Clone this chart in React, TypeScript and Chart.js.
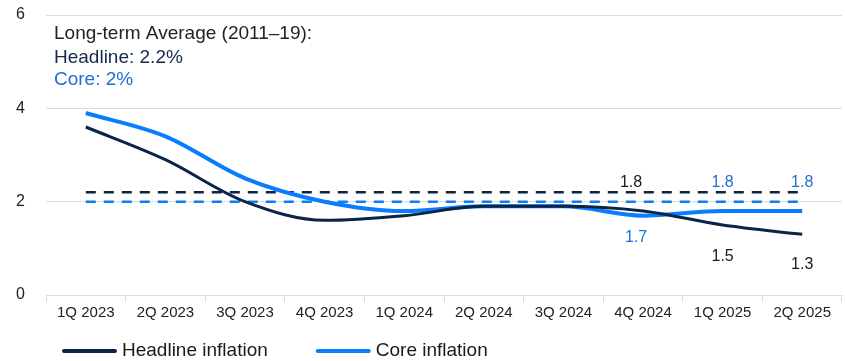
import React, { useEffect, useRef } from "react";
import { Chart, registerables } from "chart.js";

Chart.register(...registerables);

const categories = ["1Q 2023", "2Q 2023", "3Q 2023", "4Q 2023", "1Q 2024", "2Q 2024", "3Q 2024", "4Q 2024", "1Q 2025", "2Q 2025"];
const headline = [3.6, 2.9, 2.0, 1.6, 1.7, 1.9, 1.9, 1.8, 1.5, 1.3];
const core = [3.9, 3.4, 2.5, 2.0, 1.8, 1.9, 1.9, 1.7, 1.8, 1.8];
const headlineAvg = 2.2;
const coreAvg = 2.0;
const yTicks = [0, 2, 4, 6];
const noteLines = ["Long-term Average (2011\u201319):", "Headline: 2.2%", "Core: 2%"];
// which points get value labels: [datasetIndex, pointIndex]
const labelledPoints: [number, number][] = [[0, 7], [0, 8], [0, 9], [1, 7], [1, 8], [1, 9]];

const FONT = "'Liberation Sans', Arial, sans-serif";
const NAVY = "#0b2546";
const BLUE = "#0a7dff";
const NAVY_TEXT = "#13294b";
const BLUE_TEXT = "#1f6fd1";
const GRID = "#dcdcdc";

// label placement style: [dx, dy from point to baseline]
const labelOffsets: Record<string, [number, number]> = {
  "0-7": [-12, -24],
  "0-8": [0, 36],
  "0-9": [0, 35],
  "1-7": [-7, 26],
  "1-8": [0, -24],
  "1-9": [0, -24],
};

const overlayPlugin = {
  id: "overlay",
  afterDatasetsDraw(chart: any) {
    const { ctx, chartArea } = chart;
    ctx.save();
    ctx.font = `19px ${FONT}`;
    ctx.textAlign = "left";
    ctx.textBaseline = "alphabetic";
    const noteColors = ["#222222", NAVY_TEXT, BLUE_TEXT];
    const noteDy = [24, 48, 70];
    noteLines.forEach((t, i) => {
      ctx.fillStyle = noteColors[i];
      ctx.fillText(t, chartArea.left + 8, chartArea.top + noteDy[i]);
    });
    ctx.font = `16px ${FONT}`;
    ctx.textAlign = "center";
    labelledPoints.forEach(([ds, idx]) => {
      const el = chart.getDatasetMeta(ds).data[idx];
      const v = (chart.data.datasets[ds].data as number[])[idx];
      const off = labelOffsets[`${ds}-${idx}`] || [0, -20];
      ctx.fillStyle = ds === 0 ? "#1a1a1a" : BLUE_TEXT;
      ctx.fillText(v.toFixed(1), el.x + off[0], el.y + off[1]);
    });
    ctx.restore();
  },
  afterDraw(chart: any) {
    const { ctx, chartArea } = chart;
    ctx.save();
    ctx.font = `19px ${FONT}`;
    ctx.textBaseline = "middle";
    ctx.textAlign = "left";
    const items = [
      { text: "Headline inflation", color: NAVY },
      { text: "Core inflation", color: BLUE },
    ];
    let x = chartArea.left + 16;
    const y = 351;
    items.forEach((it) => {
      ctx.strokeStyle = it.color;
      ctx.lineWidth = 4;
      ctx.lineCap = "round";
      ctx.beginPath();
      ctx.moveTo(x + 2, y);
      ctx.lineTo(x + 53, y);
      ctx.stroke();
      ctx.fillStyle = "#1a1a1a";
      ctx.fillText(it.text, x + 60, y);
      x += 60 + ctx.measureText(it.text).width + 48;
    });
    ctx.restore();
  },
};

export default function App() {
  const ref = useRef<HTMLCanvasElement>(null);
  useEffect(() => {
    document.body.style.margin = "0";
    const c = new Chart(ref.current!, {
      type: "line",
      data: {
        labels: categories,
        datasets: [
          { label: "Headline inflation", data: headline, borderColor: NAVY, backgroundColor: NAVY, borderWidth: 3, pointRadius: 0, cubicInterpolationMode: "monotone", order: 1 },
          { label: "Core inflation", data: core, borderColor: BLUE, backgroundColor: BLUE, borderWidth: 4, pointRadius: 0, cubicInterpolationMode: "monotone", order: 2 },
          { label: "Headline avg", data: categories.map(() => headlineAvg), borderColor: NAVY, borderWidth: 2.5, borderDash: [10, 8], pointRadius: 0, order: 3 },
          { label: "Core avg", data: categories.map(() => coreAvg), borderColor: BLUE, borderWidth: 2.5, borderDash: [10, 8], pointRadius: 0, order: 4 },
        ],
      },
      options: {
        animation: false,
        responsive: false,
        maintainAspectRatio: false,
        layout: { padding: { left: 16, right: 3, top: 15, bottom: 37 } },
        plugins: { legend: { display: false }, tooltip: { enabled: false } },
        scales: {
          x: {
            offset: true,
            grid: { offset: true, drawOnChartArea: false, drawTicks: true, tickLength: 7, color: GRID },
            border: { color: GRID },
            ticks: { font: { family: FONT, size: 15 }, color: "#222222", padding: 2, maxRotation: 0, autoSkip: false },
          },
          y: {
            min: 0,
            max: 6,
            afterBuildTicks: (s: any) => { s.ticks = yTicks.map((v) => ({ value: v })); },
            afterFit: (s: any) => { s.width = 30; },
            grid: { color: GRID, drawTicks: false },
            border: { display: false },
            ticks: { font: { family: FONT, size: 16 }, color: "#222222", padding: 0, crossAlign: "far" },
          },
        },
      },
      plugins: [overlayPlugin],
    });
    return () => c.destroy();
  }, []);
  return <canvas ref={ref} width={845} height={361} style={{ display: "block" }} />;
}
